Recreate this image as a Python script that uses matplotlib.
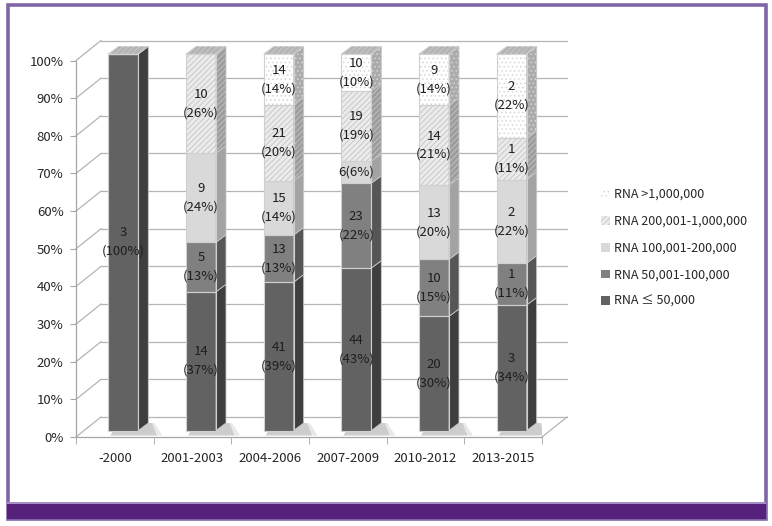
import matplotlib
matplotlib.use('Agg')
import matplotlib.pyplot as plt
from matplotlib.patches import Polygon, Rectangle, Patch
import numpy as np

plt.rcParams['font.family'] = ['Noto Sans CJK KR', 'DejaVu Sans']
plt.rcParams['hatch.linewidth'] = 0.6

# categories
periods = ['-2000', '2001-2003', '2004-2006', '2007-2009', '2010-2012', '2013-2015']

# counts per viral load group (stacked bottom -> top)
rna_le_50k = [3, 14, 41, 44, 20, 3]
rna_50k_100k = [0, 5, 13, 23, 10, 1]
rna_100k_200k = [0, 9, 15, 6, 13, 2]
rna_200k_1m = [0, 10, 21, 19, 14, 1]
rna_gt_1m = [0, 0, 14, 10, 9, 2]

# percent labels as printed on the chart
pct_le_50k = ['100%', '37%', '39%', '43%', '30%', '34%']
pct_50k_100k = ['', '13%', '13%', '22%', '15%', '11%']
pct_100k_200k = ['', '24%', '14%', '6%', '20%', '22%']
pct_200k_1m = ['', '26%', '20%', '19%', '21%', '11%']
pct_gt_1m = ['', '', '14%', '10%', '14%', '22%']

series_names = ['RNA \u2264 50,000', 'RNA 50,001-100,000', 'RNA 100,001-200,000',
                'RNA 200,001-1,000,000', 'RNA >1,000,000']

series = [rna_le_50k, rna_50k_100k, rna_100k_200k, rna_200k_1m, rna_gt_1m]
pcts = [pct_le_50k, pct_50k_100k, pct_100k_200k, pct_200k_1m, pct_gt_1m]

# styles: front colour, side colour, hatch, hatch colour
styles = [
    ('#626262', '#3e3e3e', None, None),
    ('#808080', '#565656', None, None),
    ('#d9d9d9', '#a3a3a3', None, None),
    ('#ebebeb', '#9d9d9d', '//////', '#c4c4c4'),
    ('#ffffff', '#ababab', '....', '#d6d6d6'),
]

W, H = 772, 526
fig = plt.figure(figsize=(W / 100, H / 100), dpi=100)
fig.patch.set_facecolor('white')

# front plane of the chart in pixels
x_left, x_right, y_bot, y_top = 76, 542, 437, 60.5
ax = fig.add_axes([x_left / W, 1 - y_bot / H, (x_right - x_left) / W, (y_bot - y_top) / H])
ax.set_xlim(-0.5, 5.5)
ax.set_ylim(0, 1)
ax.patch.set_alpha(0)

ppx = (x_right - x_left) / 6.0   # pixels per x unit
ppy = (y_bot - y_top) / 1.0      # pixels per y unit


def off(dx_px, dy_px):
    return dx_px / ppx, dy_px / ppy


grid_c = '#b4b4b4'
bx, by = off(25, 20)    # back wall offset
ox, oy = off(8.5, 6.5)  # bar plane offset
dx, dy = off(10, 7.5)   # bar depth
bw = 30 / ppx

# back wall grid + side wall diagonals
for g in np.arange(0, 1.01, 0.1):
    ax.plot([-0.5, -0.5 + bx], [g, g + by], color=grid_c, lw=0.9, clip_on=False, zorder=0)
    ax.plot([-0.5 + bx, 5.5 + bx], [g + by, g + by], color=grid_c, lw=0.9, clip_on=False, zorder=0)
ax.plot([5.5, 5.5 + bx], [0, by], color=grid_c, lw=0.9, clip_on=False, zorder=0)

x = np.arange(len(periods))
totals = np.sum(np.array(series), axis=0)
bottom = np.zeros(len(periods))

# floor shadows
p1x, p1y = off(2, 1.5)
p2x, _ = off(14, 0)
p3x, _ = off(6, 0)
for i in x:
    xl = i - bw / 2 + ox
    xr = i + bw / 2 + ox
    for a, s in [(0.18, 1.0), (0.25, 0.6)]:
        sh = Polygon([(xl + p1x, p1y), (xr + dx + p2x * s, p1y),
                      (xr + dx + p3x * s, oy + dy), (xl + dx, oy + dy)],
                     closed=True, facecolor='#808080', edgecolor='none', alpha=a, zorder=1)
        ax.add_patch(sh)

for k, (vals, pl, st) in enumerate(zip(series, pcts, styles)):
    vals = np.array(vals, dtype=float)
    frac = vals / totals
    front, side, hatch, hcol = st
    ax.bar(x + ox, frac, bw, bottom=bottom + oy, color=front, edgecolor='none', zorder=3, clip_on=False)
    if hatch:
        ax.bar(x + ox, frac, bw, bottom=bottom + oy, color='none', edgecolor=hcol, hatch=hatch,
               linewidth=0, zorder=3.1, clip_on=False)
    ax.bar(x + ox, frac, bw, bottom=bottom + oy, color='none', edgecolor='#d0d0d0',
           linewidth=0.8, zorder=3.2, clip_on=False)
    for i in x:
        if vals[i] == 0:
            continue
        y0 = bottom[i] + oy
        y1 = bottom[i] + frac[i] + oy
        xr = i + bw / 2 + ox
        poly = [(xr, y0), (xr + dx, y0 + dy), (xr + dx, y1 + dy), (xr, y1)]
        ax.add_patch(Polygon(poly, closed=True, facecolor=side, edgecolor='#c8c8c8', lw=0.6,
                             zorder=3, clip_on=False))
        if hatch:
            ax.add_patch(Polygon(poly, closed=True, facecolor='none', edgecolor=hcol, hatch=hatch,
                                 lw=0, zorder=3.1, clip_on=False))
        yc = (y0 + y1) / 2
        if frac[i] < 0.08:
            txt = f'{int(vals[i])}({pl[i]})'
        else:
            txt = f'{int(vals[i])}\n({pl[i]})'
        ax.text(i + ox, yc, txt, ha='center', va='center', fontsize=9.5, color='#1e1e1e',
                linespacing=1.55, zorder=5)
    bottom = bottom + frac

# top faces
for i in x:
    xl = i - bw / 2 + ox
    yt = bottom[i] + oy
    poly = [(xl, yt), (xl + bw, yt), (xl + bw + dx, yt + dy), (xl + dx, yt + dy)]
    ax.add_patch(Polygon(poly, closed=True, facecolor='#bdbdbd', edgecolor='#d0d0d0', lw=0.6,
                         zorder=3, clip_on=False))
    ax.add_patch(Polygon(poly, closed=True, facecolor='none', edgecolor='#a8a8a8', hatch='//////',
                         lw=0, zorder=3.1, clip_on=False))

# axes styling
for s in ['top', 'right']:
    ax.spines[s].set_visible(False)
for s in ['left', 'bottom']:
    ax.spines[s].set_color('#a6a6a6')
    ax.spines[s].set_linewidth(0.9)
ax.set_yticks(np.arange(0, 1.01, 0.1))
ax.set_yticklabels([f'{int(round(v * 100))}%' for v in np.arange(0, 1.01, 0.1)])
ax.set_xticks(x)
ax.set_xticklabels(periods)
ax.set_xticks(np.arange(-0.5, 6, 1), minor=True)
ax.tick_params(axis='y', length=4, color='#a6a6a6', labelsize=9.5, labelcolor='#262626', pad=5)
ax.tick_params(axis='x', which='major', length=0, labelsize=9.5, labelcolor='#262626', pad=11)
ax.tick_params(axis='x', which='minor', length=5, color='#a6a6a6')

# legend
handles = []
for name, st in zip(series_names, styles):
    front, side, hatch, hcol = st
    if hatch:
        handles.append(Patch(facecolor=front, edgecolor=hcol, hatch=hatch, linewidth=0))
    else:
        handles.append(Patch(facecolor=front, edgecolor='none'))
fig.legend(handles[::-1], series_names[::-1], loc='center left',
           bbox_to_anchor=(590 / W, 1 - 248 / H), frameon=False, fontsize=9,
           handlelength=0.7, handleheight=0.7, handletextpad=0.35, labelspacing=1.1,
           labelcolor='#262626')

# purple frame and bottom band
fig.patches.append(Rectangle((7.5 / W, 1 - 519 / H), 758 / W, 514 / H, transform=fig.transFigure,
                             facecolor='none', edgecolor='#8064a8', lw=2.6, zorder=0))
fig.patches.append(Rectangle((7 / W, 1 - 519 / H), 759 / W, 16 / H, transform=fig.transFigure,
                             facecolor='#56217a', edgecolor='none', zorder=1))
fig.patches.append(Rectangle((7 / W, 1 - 503.5 / H), 759 / W, 1.5 / H, transform=fig.transFigure,
                             facecolor='#a58cc4', edgecolor='none', zorder=1))

fig.savefig('out.png', dpi=100)
